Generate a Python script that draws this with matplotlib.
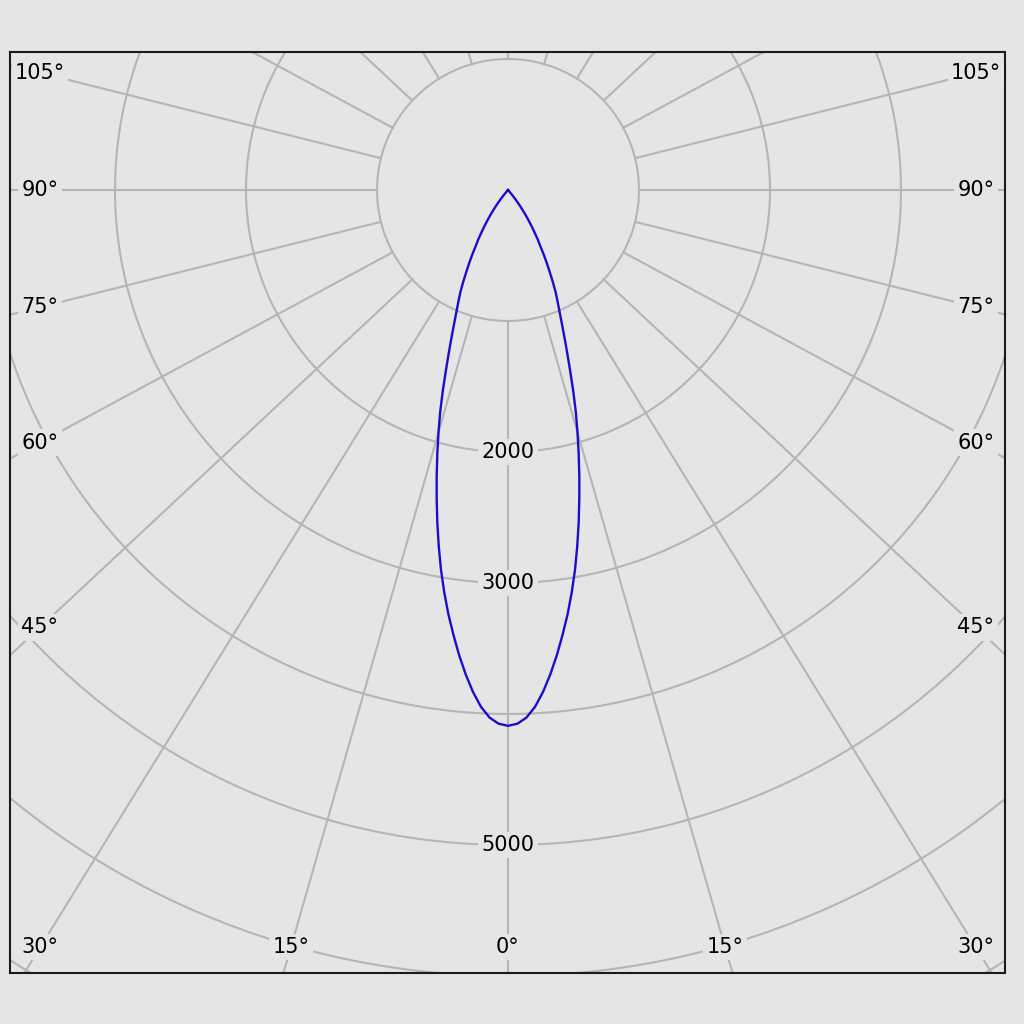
import numpy as np
import matplotlib.pyplot as plt

# luminous intensity (cd) vs angle from nadir, symmetric plane
angles = [0, 1, 2, 3, 4, 5, 6, 7, 8, 9, 10, 11, 12, 13, 14, 15, 16, 17, 18, 19, 20,
          21, 22, 23, 24, 25, 26, 27, 28, 29, 30, 31, 32, 33, 34, 35, 36, 37, 38, 39,
          40, 41, 42, 45, 60, 75, 90]
intensity = [4090, 4075, 4030, 3950, 3840, 3710, 3570, 3420, 3270, 3110, 2945, 2770,
             2595, 2420, 2250, 2085, 1925, 1770, 1610, 1455, 1320, 1200, 1095, 1005,
             930, 860, 780, 700, 630, 560, 490, 440, 385, 335, 285, 240, 195, 155, 115,
             80, 45, 15, 0, 0, 0, 0, 0]

ring_values = [1000, 2000, 3000, 4000, 5000, 6000, 7000, 8000]
ring_labels = [2000, 3000, 5000]
side_labels = [45, 60, 75, 90, 105]
bottom_labels = [0, 15, 30]

bg = '#e5e5e5'
grid_col = '#b5b5b5'
line_col = '#1c0ccc'
stretch = 1.07  # spokes look slightly widened in the original

fig = plt.figure(figsize=(10.24, 10.24), dpi=100, facecolor=bg)
ax = fig.add_axes([10 / 1024, 51 / 1024, 995 / 1024, 921 / 1024])
ax.set_facecolor(bg)
scale = 1000 / 131.0
ax.set_xlim((10 - 508) * scale, (1005 - 508) * scale)
ax.set_ylim(-(973 - 190) * scale, (190 - 52) * scale)
ax.set_xticks([])
ax.set_yticks([])
for s in ax.spines.values():
    s.set_linewidth(1.5)
    s.set_color('#1a1a1a')

# rings
t = np.linspace(0, 2 * np.pi, 721)
for r in ring_values:
    ax.plot(r * np.sin(t), r * np.cos(t), color=grid_col, lw=1.5, zorder=1)


def spoke_dir(deg):
    a = np.radians(deg)
    d = np.array([stretch * np.sin(a), -np.cos(a)])
    return d / np.hypot(*d)


# spokes every 15 degrees, starting on the first ring
for deg in range(0, 360, 15):
    d = spoke_dir(deg)
    ax.plot([d[0] * ring_values[0], d[0] * 9000], [d[1] * ring_values[0], d[1] * 9000],
            color=grid_col, lw=1.5, zorder=1)

# intensity curve, mirrored to both sides
th = np.radians(np.array(angles))
val = np.array(intensity)
th_full = np.concatenate([-th[::-1], th[1:]])
val_full = np.concatenate([val[::-1], val[1:]])
ax.plot(val_full * np.sin(th_full), -val_full * np.cos(th_full), color=line_col, lw=1.7,
        solid_joinstyle='round', zorder=3)

box = dict(boxstyle='square,pad=0.15', facecolor=bg, edgecolor='none')
fs = 15

for r in ring_labels:
    ax.text(0, -r, str(r), ha='center', va='center', fontsize=fs, bbox=box, zorder=4)

x_in = 468 * scale
for deg in side_labels:
    d = spoke_dir(deg)
    y = d[1] / abs(d[0]) * x_in
    for sgn in (-1, 1):
        ax.text(sgn * x_in, y, f'{deg}°', ha='center', va='center', fontsize=fs, bbox=box, zorder=4)

y_in = -(947 - 190) * scale
for deg in bottom_labels:
    d = spoke_dir(deg)
    x = d[0] / abs(d[1]) * abs(y_in)
    for sgn in ((1,) if deg == 0 else (-1, 1)):
        ax.text(sgn * x, y_in, f'{deg}°', ha='center', va='center', fontsize=fs, bbox=box, zorder=4)

fig.savefig('out.png', dpi=100, facecolor=bg)
